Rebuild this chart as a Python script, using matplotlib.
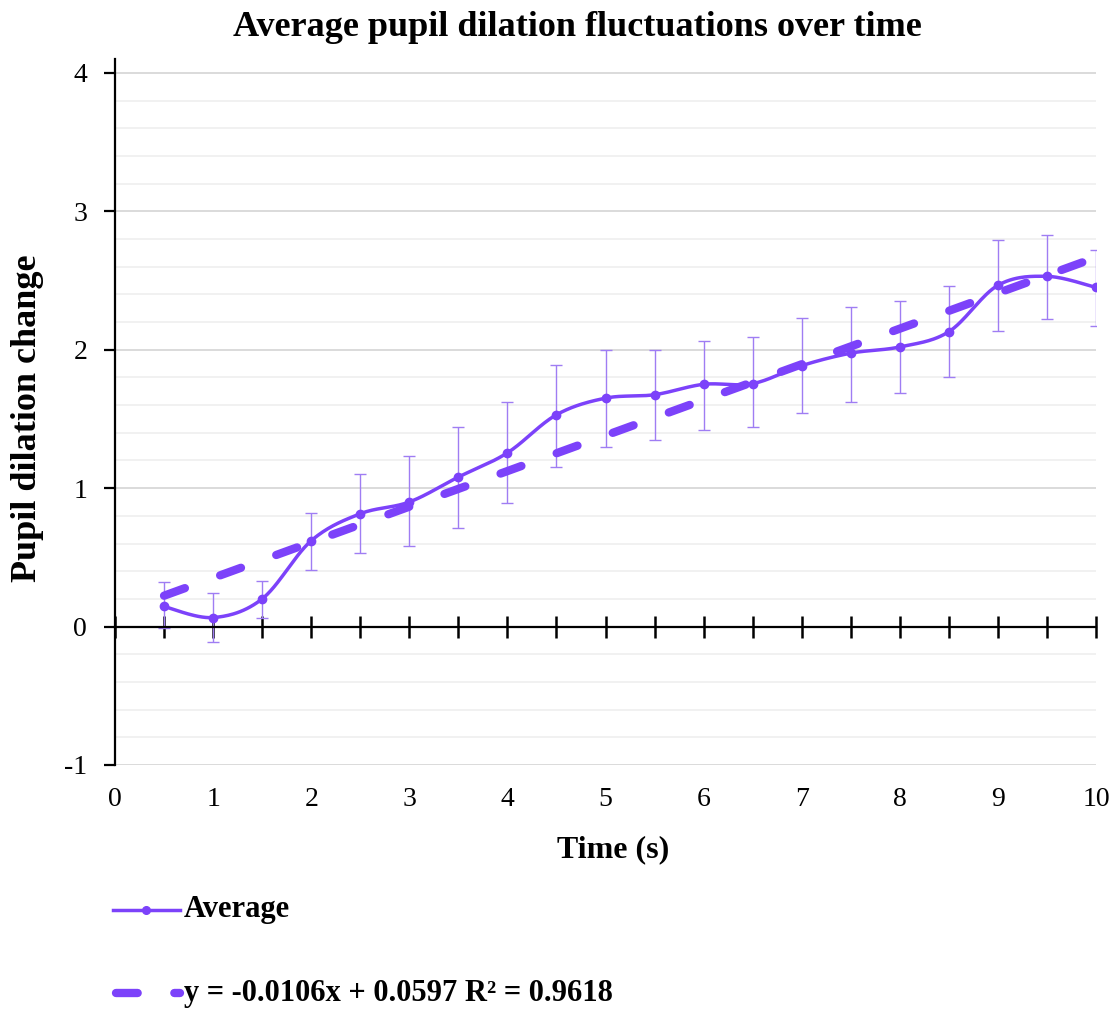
import numpy as np
import matplotlib
matplotlib.use("Agg")
import matplotlib.pyplot as plt
import matplotlib.transforms as mtrans
from matplotlib.lines import Line2D

# ---- data ----
time_s = [0.5, 1.0, 1.5, 2.0, 2.5, 3.0, 3.5, 4.0, 4.5, 5.0,
          5.5, 6.0, 6.5, 7.0, 7.5, 8.0, 8.5, 9.0, 9.5, 10.0]
average = [0.145, 0.065, 0.20, 0.62, 0.815, 0.90, 1.08, 1.255, 1.53, 1.65,
           1.675, 1.75, 1.755, 1.885, 1.975, 2.02, 2.13, 2.465, 2.53, 2.45]
err_up = [0.175, 0.175, 0.13, 0.20, 0.285, 0.33, 0.36, 0.365, 0.36, 0.35,
          0.325, 0.31, 0.335, 0.345, 0.33, 0.33, 0.33, 0.33, 0.30, 0.27]
err_dn = [0.155, 0.175, 0.135, 0.21, 0.285, 0.315, 0.365, 0.365, 0.375, 0.35,
          0.325, 0.33, 0.315, 0.345, 0.35, 0.33, 0.325, 0.33, 0.31, 0.28]
x_tick_labels = ["0", "1", "2", "3", "4", "5", "6", "7", "8", "9", "10"]
y_tick_labels = ["-1", "0", "1", "2", "3", "4"]
title = "Average pupil dilation fluctuations over time"
xlabel = "Time (s)"
ylabel = "Pupil dilation change"
legend_labels = ["Average", "y = -0.0106x + 0.0597 R² = 0.9618"]

PURPLE = "#7C42FA"
ERR = "#9F7DF3"
FONT = "Liberation Serif"
plt.rcParams["font.family"] = [FONT, "DejaVu Serif"]


def smooth(xs, ys, n=30):
    """Excel-style smoothed line (Catmull-Rom Bezier)."""
    xs = np.asarray(xs, float)
    ys = np.asarray(ys, float)
    P = np.column_stack([xs, ys])
    out = []
    t = np.linspace(0, 1, n)[:, None]
    for i in range(len(P) - 1):
        p0 = P[i - 1] if i > 0 else P[i]
        p1 = P[i]
        p2 = P[i + 1]
        p3 = P[i + 2] if i + 2 < len(P) else P[i + 1]
        c1 = p1 + (p2 - p0) / 6.0
        c2 = p2 - (p3 - p1) / 6.0
        seg = ((1 - t) ** 3) * p1 + 3 * ((1 - t) ** 2) * t * c1 + 3 * (1 - t) * t ** 2 * c2 + t ** 3 * p2
        out.append(seg if i == 0 else seg[1:])
    out = np.vstack(out)
    return out[:, 0], out[:, 1]


W, H = 1117, 1011
fig = plt.figure(figsize=(W / 100, H / 100), dpi=100)
ax = fig.add_axes([115 / W, 1 - 765 / H, (1096 - 115) / W, (765 - 59) / H])

xticks = [float(s) for s in x_tick_labels]
yticks = [float(s) for s in y_tick_labels]
ax.set_xlim(0, 10)
ax.set_ylim(-1, 4.1)

# gridlines
minor_y = np.arange(-1, 4.0001, 0.2)
for v in minor_y:
    ax.axhline(v, color="#f0f0f0", lw=1.3, zorder=0)
for v in yticks:
    ax.axhline(v, color="#d9d9d9", lw=1.3, zorder=0.5)

# error bars
ax.errorbar(time_s, average, yerr=[err_dn, err_up], fmt="none", ecolor=ERR,
            elinewidth=1.0, capsize=4.3, capthick=1.0, zorder=3)

# smoothed series
sx, sy = smooth(time_s, average)
ax.plot(sx, sy, color=PURPLE, lw=2.5, zorder=4, solid_capstyle="round")
ax.plot(time_s, average, "o", color=PURPLE, ms=6, zorder=5)

# linear trendline
coef = np.polyfit(time_s, average, 1)
tx = np.array([time_s[0], time_s[-1]])
ax.plot(tx, np.polyval(coef, tx), color=PURPLE, lw=6, dashes=(2.66, 4.5),
        dash_capstyle="round", zorder=4)

# spines
for s in ["top", "right"]:
    ax.spines[s].set_visible(False)
ax.spines["left"].set_linewidth(1.6)
ax.spines["bottom"].set_position(("data", 0))
ax.spines["bottom"].set_linewidth(1.6)
ax.spines["left"].set_zorder(6)
ax.spines["bottom"].set_zorder(6)

ax.set_yticks(yticks)
ax.set_yticklabels(y_tick_labels, fontsize=20)
ax.tick_params(axis="y", direction="out", length=8, width=1.6, pad=12)
ax.set_xticks(np.arange(0, 10.01, 0.5))
ax.tick_params(axis="x", direction="inout", length=16, width=1.8, labelbottom=False)
off = ax.transData + mtrans.ScaledTranslation(0, -22 / 100, fig.dpi_scale_trans)
for v, lab in zip(xticks, x_tick_labels):
    ax.text(v, -1.0, lab, transform=off, ha="center", va="top", fontsize=20)

fig.text(577 / W, 1 - 27 / H, title, ha="center", va="center", fontsize=26, fontweight="bold")
fig.text(613 / W, 1 - 850 / H, xlabel, ha="center", va="center", fontsize=23, fontweight="bold")
fig.text(28 / W, 1 - 418 / H, ylabel, ha="center", va="center", fontsize=26,
         fontweight="bold", rotation=90)

# legend
ly1 = 1 - 910 / H
fig.add_artist(Line2D([113 / W, 180 / W], [ly1, ly1], color=PURPLE, lw=2.5,
                      transform=fig.transFigure))
fig.add_artist(Line2D([146 / W], [ly1], marker="o", color=PURPLE, ms=5.5,
                      transform=fig.transFigure))
fig.text(184 / W, ly1, legend_labels[0], ha="left", va="center", fontsize=22, fontweight="bold")
ly2 = 1 - 993 / H
fig.add_artist(Line2D([116 / W, 180 / W], [ly2, ly2], color=PURPLE, lw=6,
                      dashes=(2.6, 4.4), dash_capstyle="round", transform=fig.transFigure))
fig.text(184 / W, ly2, legend_labels[1], ha="left", va="center", fontsize=22, fontweight="bold")

fig.savefig("out.png", dpi=100)
